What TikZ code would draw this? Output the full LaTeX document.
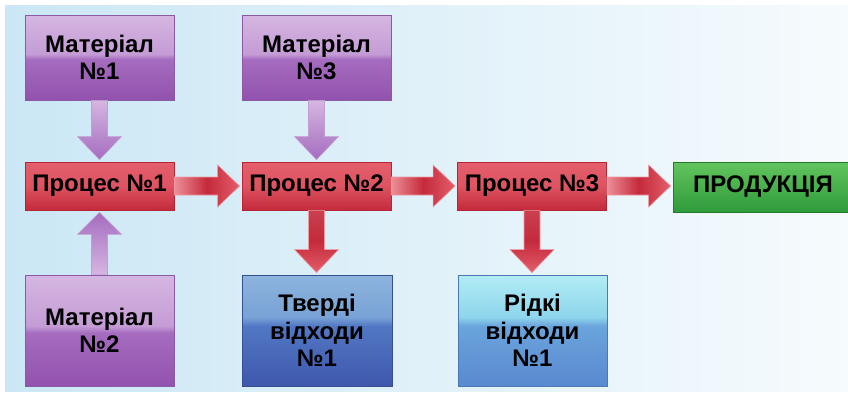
\documentclass[tikz,border=0pt]{standalone}
\usepackage{fontspec}
\setmainfont{Liberation Sans}
\usetikzlibrary{calc}
\definecolor{bgL}{HTML}{CBE7F5}
\definecolor{bgR}{HTML}{F6FBFD}
\definecolor{purpTop}{HTML}{D5B6E1}
\definecolor{purpUp}{HTML}{C49CD5}
\definecolor{purpLow}{HTML}{A56CBF}
\definecolor{purpBot}{HTML}{9252AE}
\definecolor{purpEdge}{HTML}{8A5AA6}
\definecolor{redTop}{HTML}{E45E6B}
\definecolor{redBot}{HTML}{C42A3B}
\definecolor{redEdge}{HTML}{B52535}
\definecolor{redLight}{HTML}{EE9AA3}
\definecolor{greenTop}{HTML}{62C45E}
\definecolor{greenBot}{HTML}{2F9B3A}
\definecolor{greenEdge}{HTML}{237A2C}
\definecolor{tTop}{HTML}{8DB4DE}
\definecolor{tUp}{HTML}{78A2D6}
\definecolor{tLow}{HTML}{5177C4}
\definecolor{tBot}{HTML}{3F58AC}
\definecolor{tEdge}{HTML}{34508F}
\definecolor{rTop}{HTML}{B2ECF5}
\definecolor{rUp}{HTML}{8ED5EC}
\definecolor{rLow}{HTML}{6AA4DC}
\definecolor{rBot}{HTML}{5989D0}
\definecolor{rEdge}{HTML}{4A78B0}
\pgfdeclareverticalshading{purpglass}{100bp}{color(0bp)=(purpBot); color(25bp)=(purpBot); color(49bp)=(purpLow); color(52bp)=(purpUp); color(75bp)=(purpTop); color(100bp)=(purpTop)}
\pgfdeclareverticalshading{tglass}{100bp}{color(0bp)=(tBot); color(25bp)=(tBot); color(52bp)=(tLow); color(56bp)=(tUp); color(75bp)=(tTop); color(100bp)=(tTop)}
\pgfdeclareverticalshading{rglass}{100bp}{color(0bp)=(rBot); color(25bp)=(rBot); color(52bp)=(rLow); color(56bp)=(rUp); color(75bp)=(rTop); color(100bp)=(rTop)}
\pgfdeclareverticalshading{redglass}{100bp}{color(0bp)=(redBot); color(25bp)=(redBot); color(50bp)=(redTop!80!redBot); color(75bp)=(redTop); color(100bp)=(redTop)}
\pgfdeclareverticalshading{greenglass}{100bp}{color(0bp)=(greenBot); color(25bp)=(greenBot); color(75bp)=(greenTop); color(100bp)=(greenTop)}
\tikzset{
  box/.style={rectangle, inner sep=0pt, align=center, text=black,
    font=\bfseries\fontsize{24}{27.5}\selectfont, line width=0.8pt},
  matbox/.style={box, shading=purpglass, draw=purpEdge,
    minimum width=149pt, minimum height=85pt},
  procbox/.style={box, shading=redglass, draw=redEdge,
    minimum width=149pt, minimum height=48pt},
  prodbox/.style={box, shading=greenglass, draw=greenEdge,
    minimum width=180pt, minimum height=50pt},
  tbox/.style={box, shading=tglass, draw=tEdge,
    minimum width=150pt, minimum height=111pt},
  rbox/.style={box, shading=rglass, draw=rEdge,
    minimum width=149pt, minimum height=111pt},
  redarrowH/.style={left color=redTop!70!white, right color=redTop, middle color=redBot, draw=redLight, line width=0.6pt},
  redarrowV/.style={top color=redBot!90!white, bottom color=redTop, middle color=redBot, draw=redLight, line width=0.6pt},
  purparrowD/.style={top color=purpTop, bottom color=purpLow, draw=purpUp, line width=0.6pt},
  purparrowU/.style={top color=purpLow, bottom color=purpTop, draw=purpUp, line width=0.6pt},
}
% right arrow from #1.east to #2.west
\newcommand\arrowright[3]{%
  \path[#3] let \p1=(#1.east), \p2=(#2.west) in
    (\x1,\y1+9pt) -- (\x2-24pt,\y1+9pt) -- (\x2-24pt,\y1+21pt) -- (\x2-2pt,\y1)
    -- (\x2-24pt,\y1-21pt) -- (\x2-24pt,\y1-9pt) -- (\x1,\y1-9pt) -- cycle;}
% down arrow from #1.south to #2.north
\newcommand\arrowdown[3]{%
  \path[#3] let \p1=(#1.south), \p2=(#2.north) in
    (\x1-8pt,\y1) -- (\x1-8pt,\y2+25pt) -- (\x1-22pt,\y2+25pt) -- (\x1,\y2+2pt)
    -- (\x1+22pt,\y2+25pt) -- (\x1+8pt,\y2+25pt) -- (\x1+8pt,\y1) -- cycle;}
% up arrow from #1.north to #2.south
\newcommand\arrowup[3]{%
  \path[#3] let \p1=(#1.north), \p2=(#2.south) in
    (\x1-8pt,\y1) -- (\x1-8pt,\y2-24pt) -- (\x1-22pt,\y2-24pt) -- (\x1,\y2-2pt)
    -- (\x1+22pt,\y2-24pt) -- (\x1+8pt,\y2-24pt) -- (\x1+8pt,\y1) -- cycle;}
\begin{document}
\begin{tikzpicture}[x=1pt,y=-1pt]
\useasboundingbox (0,0) rectangle (848,397);
\fill[white] (0,0) rectangle (848,397);
\shade[left color=bgL, right color=bgR] (5,5) rectangle (848,391);
% nodes
\node[matbox] (m1) at (99.5,57.5) {Матеріал\\№1};
\node[matbox] (m3) at (316.5,57.5) {Матеріал\\№3};
\node[procbox] (p1) at (99.5,186) {Процес №1};
\node[procbox] (p2) at (316.5,186) {Процес №2};
\node[procbox] (p3) at (532,186) {Процес №3};
\node[prodbox] (prod) at (763,187) {ПРОДУКЦІЯ};
\node[matbox, minimum height=111pt] (m2) at (99.5,330.5) {Матеріал\\№2};
\node[tbox] (t) at (317,330.5) {Тверді\\відходи\\№1};
\node[rbox] (r) at (532.5,330.5) {Рідкі\\відходи\\№1};
% arrows
\arrowdown{m1}{p1}{purparrowD}
\arrowdown{m3}{p2}{purparrowD}
\arrowup{m2}{p1}{purparrowU}
\arrowright{p1}{p2}{redarrowH}
\arrowright{p2}{p3}{redarrowH}
\arrowright{p3}{prod}{redarrowH}
\arrowdown{p2}{t}{redarrowV}
\arrowdown{p3}{r}{redarrowV}
\end{tikzpicture}
\end{document}
